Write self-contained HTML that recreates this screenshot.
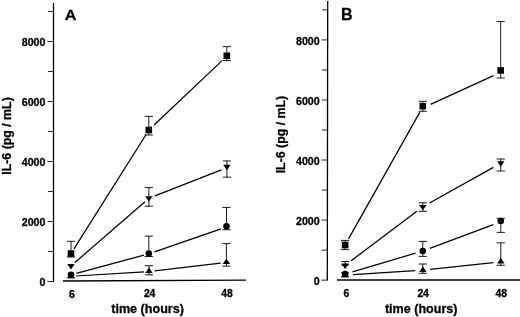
<!DOCTYPE html>
<html><head><meta charset="utf-8"><title>IL-6 time course</title>
<style>
html,body{margin:0;padding:0;background:#fff;}
svg{display:block;}
text{font-family:"Liberation Sans",Arial,sans-serif;font-weight:bold;fill:#000;stroke:#000;stroke-width:0.3px;stroke-linejoin:round;}
.tk{font-size:10.65px;}
.xk{font-size:10.4px;}
.ax{font-size:12.6px;}
.ay{font-size:12.35px;}
.pl{font-size:16px;}
</style></head><body>
<svg width="520" height="317" viewBox="0 0 520 317">
<rect width="520" height="317" fill="#fff"/>
<line x1="53.50" y1="3.00" x2="53.50" y2="281.95" stroke="#000" stroke-width="1.3"/>
<line x1="47.60" y1="281.50" x2="53.50" y2="281.50" stroke="#000" stroke-width="0.85"/>
<text x="45.40" y="286.20" text-anchor="end" class="tk">0</text>
<line x1="47.90" y1="251.50" x2="53.50" y2="251.50" stroke="#000" stroke-width="0.85"/>
<line x1="47.60" y1="221.50" x2="53.50" y2="221.50" stroke="#000" stroke-width="0.85"/>
<text x="45.40" y="226.20" text-anchor="end" class="tk">2000</text>
<line x1="47.90" y1="191.50" x2="53.50" y2="191.50" stroke="#000" stroke-width="0.85"/>
<line x1="47.60" y1="161.50" x2="53.50" y2="161.50" stroke="#000" stroke-width="0.85"/>
<text x="45.40" y="166.20" text-anchor="end" class="tk">4000</text>
<line x1="47.90" y1="131.50" x2="53.50" y2="131.50" stroke="#000" stroke-width="0.85"/>
<line x1="47.60" y1="101.50" x2="53.50" y2="101.50" stroke="#000" stroke-width="0.85"/>
<text x="45.40" y="106.20" text-anchor="end" class="tk">6000</text>
<line x1="47.90" y1="71.50" x2="53.50" y2="71.50" stroke="#000" stroke-width="0.85"/>
<line x1="47.60" y1="41.50" x2="53.50" y2="41.50" stroke="#000" stroke-width="0.85"/>
<text x="45.40" y="46.20" text-anchor="end" class="tk">8000</text>
<line x1="47.90" y1="11.50" x2="53.50" y2="11.50" stroke="#000" stroke-width="0.85"/>
<line x1="63.00" y1="281.00" x2="246.00" y2="280.10" stroke="#000" stroke-width="1.4"/>
<line x1="73.94" y1="248.85" x2="146.13" y2="134.53" stroke="#000" stroke-width="1.25"/>
<line x1="154.10" y1="124.98" x2="222.08" y2="60.67" stroke="#000" stroke-width="1.25"/>
<line x1="71.00" y1="241.30" x2="71.00" y2="257.00" stroke="#000" stroke-width="0.9"/>
<line x1="66.90" y1="241.30" x2="75.10" y2="241.30" stroke="#000" stroke-width="0.9"/>
<line x1="66.90" y1="257.00" x2="75.10" y2="257.00" stroke="#000" stroke-width="0.9"/>
<rect x="67.70" y="250.20" width="6.6" height="6.6" fill="#000"/>
<line x1="148.80" y1="116.40" x2="148.80" y2="135.00" stroke="#000" stroke-width="0.9"/>
<line x1="144.70" y1="116.40" x2="152.90" y2="116.40" stroke="#000" stroke-width="0.9"/>
<line x1="144.70" y1="135.00" x2="152.90" y2="135.00" stroke="#000" stroke-width="0.9"/>
<rect x="145.50" y="126.70" width="6.6" height="6.6" fill="#000"/>
<line x1="226.80" y1="46.60" x2="226.80" y2="60.50" stroke="#000" stroke-width="0.9"/>
<line x1="222.70" y1="46.60" x2="230.90" y2="46.60" stroke="#000" stroke-width="0.9"/>
<line x1="222.70" y1="60.50" x2="230.90" y2="60.50" stroke="#000" stroke-width="0.9"/>
<rect x="223.50" y="52.50" width="6.6" height="6.6" fill="#000"/>
<line x1="74.93" y1="262.49" x2="144.97" y2="201.71" stroke="#000" stroke-width="1.25"/>
<line x1="154.95" y1="195.92" x2="221.32" y2="169.80" stroke="#000" stroke-width="1.25"/>
<polygon points="67.30,264.07 74.70,264.07 71.00,269.57" fill="#000"/>
<line x1="148.90" y1="187.60" x2="148.90" y2="206.20" stroke="#000" stroke-width="0.9"/>
<line x1="144.80" y1="187.60" x2="153.00" y2="187.60" stroke="#000" stroke-width="0.9"/>
<line x1="144.80" y1="206.20" x2="153.00" y2="206.20" stroke="#000" stroke-width="0.9"/>
<polygon points="145.20,196.37 152.60,196.37 148.90,201.87" fill="#000"/>
<line x1="226.90" y1="160.90" x2="226.90" y2="177.20" stroke="#000" stroke-width="0.9"/>
<line x1="222.80" y1="160.90" x2="231.00" y2="160.90" stroke="#000" stroke-width="0.9"/>
<line x1="222.80" y1="177.20" x2="231.00" y2="177.20" stroke="#000" stroke-width="0.9"/>
<polygon points="223.20,164.87 230.60,164.87 226.90,170.37" fill="#000"/>
<line x1="76.41" y1="273.35" x2="143.97" y2="255.20" stroke="#000" stroke-width="1.25"/>
<line x1="154.47" y1="251.93" x2="221.02" y2="228.80" stroke="#000" stroke-width="1.25"/>
<circle cx="71.00" cy="274.70" r="3.3" fill="#000"/>
<line x1="148.80" y1="236.10" x2="148.80" y2="256.50" stroke="#000" stroke-width="0.9"/>
<line x1="144.70" y1="236.10" x2="152.90" y2="236.10" stroke="#000" stroke-width="0.9"/>
<line x1="144.70" y1="256.50" x2="152.90" y2="256.50" stroke="#000" stroke-width="0.9"/>
<circle cx="148.80" cy="253.50" r="3.3" fill="#000"/>
<line x1="226.50" y1="207.40" x2="226.50" y2="229.70" stroke="#000" stroke-width="0.9"/>
<line x1="222.40" y1="207.40" x2="230.60" y2="207.40" stroke="#000" stroke-width="0.9"/>
<line x1="222.40" y1="229.70" x2="230.60" y2="229.70" stroke="#000" stroke-width="0.9"/>
<circle cx="226.50" cy="226.20" r="3.3" fill="#000"/>
<line x1="75.99" y1="276.00" x2="144.01" y2="271.90" stroke="#000" stroke-width="1.25"/>
<line x1="154.56" y1="270.94" x2="220.64" y2="263.08" stroke="#000" stroke-width="1.25"/>
<line x1="71.00" y1="276.00" x2="71.00" y2="277.90" stroke="#000" stroke-width="0.9"/>
<line x1="66.90" y1="277.90" x2="75.10" y2="277.90" stroke="#000" stroke-width="0.9"/>
<polygon points="67.30,277.83 74.70,277.83 71.00,272.33" fill="#000"/>
<line x1="149.00" y1="265.70" x2="149.00" y2="274.90" stroke="#000" stroke-width="0.9"/>
<line x1="144.90" y1="265.70" x2="153.10" y2="265.70" stroke="#000" stroke-width="0.9"/>
<line x1="144.90" y1="274.90" x2="153.10" y2="274.90" stroke="#000" stroke-width="0.9"/>
<polygon points="145.30,273.03 152.70,273.03 149.00,267.53" fill="#000"/>
<line x1="226.40" y1="243.60" x2="226.40" y2="266.20" stroke="#000" stroke-width="0.9"/>
<line x1="222.30" y1="243.60" x2="230.50" y2="243.60" stroke="#000" stroke-width="0.9"/>
<line x1="222.30" y1="266.20" x2="230.50" y2="266.20" stroke="#000" stroke-width="0.9"/>
<polygon points="222.70,264.03 230.10,264.03 226.40,258.53" fill="#000"/>
<line x1="327.70" y1="1.00" x2="327.30" y2="280.60" stroke="#000" stroke-width="1.3"/>
<line x1="321.40" y1="280.15" x2="327.30" y2="280.15" stroke="#000" stroke-width="0.85"/>
<text x="319.70" y="285.15" text-anchor="end" class="tk">0</text>
<line x1="321.74" y1="250.12" x2="327.34" y2="250.12" stroke="#000" stroke-width="0.85"/>
<line x1="321.49" y1="220.09" x2="327.39" y2="220.09" stroke="#000" stroke-width="0.85"/>
<text x="319.70" y="225.09" text-anchor="end" class="tk">2000</text>
<line x1="321.83" y1="190.06" x2="327.43" y2="190.06" stroke="#000" stroke-width="0.85"/>
<line x1="321.57" y1="160.03" x2="327.47" y2="160.03" stroke="#000" stroke-width="0.85"/>
<text x="319.70" y="165.03" text-anchor="end" class="tk">4000</text>
<line x1="321.92" y1="130.00" x2="327.52" y2="130.00" stroke="#000" stroke-width="0.85"/>
<line x1="321.66" y1="99.97" x2="327.56" y2="99.97" stroke="#000" stroke-width="0.85"/>
<text x="319.70" y="104.97" text-anchor="end" class="tk">6000</text>
<line x1="322.00" y1="69.94" x2="327.60" y2="69.94" stroke="#000" stroke-width="0.85"/>
<line x1="321.74" y1="39.91" x2="327.64" y2="39.91" stroke="#000" stroke-width="0.85"/>
<text x="319.70" y="44.91" text-anchor="end" class="tk">8000</text>
<line x1="322.09" y1="9.88" x2="327.69" y2="9.88" stroke="#000" stroke-width="0.85"/>
<line x1="337.00" y1="280.00" x2="520.00" y2="280.00" stroke="#000" stroke-width="1.4"/>
<line x1="348.53" y1="238.90" x2="419.76" y2="112.40" stroke="#000" stroke-width="1.25"/>
<line x1="430.53" y1="104.37" x2="493.42" y2="75.63" stroke="#000" stroke-width="1.25"/>
<line x1="345.10" y1="240.40" x2="345.10" y2="249.60" stroke="#000" stroke-width="0.9"/>
<line x1="341.00" y1="240.40" x2="349.20" y2="240.40" stroke="#000" stroke-width="0.9"/>
<line x1="341.00" y1="249.60" x2="349.20" y2="249.60" stroke="#000" stroke-width="0.9"/>
<rect x="341.80" y="241.70" width="6.6" height="6.6" fill="#000"/>
<line x1="422.80" y1="101.30" x2="422.80" y2="111.30" stroke="#000" stroke-width="0.9"/>
<line x1="418.70" y1="101.30" x2="426.90" y2="101.30" stroke="#000" stroke-width="0.9"/>
<line x1="418.70" y1="111.30" x2="426.90" y2="111.30" stroke="#000" stroke-width="0.9"/>
<rect x="419.50" y="102.90" width="6.6" height="6.6" fill="#000"/>
<line x1="500.70" y1="21.50" x2="500.70" y2="78.00" stroke="#000" stroke-width="0.9"/>
<line x1="496.60" y1="21.50" x2="504.80" y2="21.50" stroke="#000" stroke-width="0.9"/>
<line x1="496.60" y1="78.00" x2="504.80" y2="78.00" stroke="#000" stroke-width="0.9"/>
<rect x="497.40" y="67.10" width="6.6" height="6.6" fill="#000"/>
<line x1="351.09" y1="260.79" x2="416.89" y2="211.25" stroke="#000" stroke-width="1.25"/>
<line x1="429.52" y1="203.04" x2="493.38" y2="167.35" stroke="#000" stroke-width="1.25"/>
<line x1="345.10" y1="261.50" x2="345.10" y2="265.00" stroke="#000" stroke-width="0.9"/>
<line x1="341.00" y1="261.50" x2="349.20" y2="261.50" stroke="#000" stroke-width="0.9"/>
<line x1="341.00" y1="265.00" x2="349.20" y2="265.00" stroke="#000" stroke-width="0.9"/>
<polygon points="341.40,263.47 348.80,263.47 345.10,268.97" fill="#000"/>
<line x1="422.80" y1="202.80" x2="422.80" y2="211.30" stroke="#000" stroke-width="0.9"/>
<line x1="418.70" y1="202.80" x2="426.90" y2="202.80" stroke="#000" stroke-width="0.9"/>
<line x1="418.70" y1="211.30" x2="426.90" y2="211.30" stroke="#000" stroke-width="0.9"/>
<polygon points="419.10,204.97 426.50,204.97 422.80,210.47" fill="#000"/>
<line x1="500.80" y1="159.00" x2="500.80" y2="171.00" stroke="#000" stroke-width="0.9"/>
<line x1="496.70" y1="159.00" x2="504.90" y2="159.00" stroke="#000" stroke-width="0.9"/>
<line x1="496.70" y1="171.00" x2="504.90" y2="171.00" stroke="#000" stroke-width="0.9"/>
<polygon points="497.10,161.37 504.50,161.37 500.80,166.87" fill="#000"/>
<line x1="352.48" y1="271.81" x2="415.51" y2="253.16" stroke="#000" stroke-width="1.25"/>
<line x1="429.82" y1="248.37" x2="493.31" y2="224.60" stroke="#000" stroke-width="1.25"/>
<line x1="345.10" y1="272.80" x2="345.10" y2="277.00" stroke="#000" stroke-width="0.9"/>
<line x1="341.00" y1="272.80" x2="349.20" y2="272.80" stroke="#000" stroke-width="0.9"/>
<line x1="341.00" y1="277.00" x2="349.20" y2="277.00" stroke="#000" stroke-width="0.9"/>
<circle cx="345.10" cy="274.00" r="3.3" fill="#000"/>
<line x1="422.80" y1="241.40" x2="422.80" y2="256.40" stroke="#000" stroke-width="0.9"/>
<line x1="418.70" y1="241.40" x2="426.90" y2="241.40" stroke="#000" stroke-width="0.9"/>
<line x1="418.70" y1="256.40" x2="426.90" y2="256.40" stroke="#000" stroke-width="0.9"/>
<circle cx="422.80" cy="251.00" r="3.3" fill="#000"/>
<line x1="500.80" y1="218.30" x2="500.80" y2="232.40" stroke="#000" stroke-width="0.9"/>
<line x1="496.70" y1="218.30" x2="504.90" y2="218.30" stroke="#000" stroke-width="0.9"/>
<line x1="496.70" y1="232.40" x2="504.90" y2="232.40" stroke="#000" stroke-width="0.9"/>
<circle cx="500.80" cy="221.00" r="3.3" fill="#000"/>
<line x1="352.98" y1="274.69" x2="415.32" y2="270.68" stroke="#000" stroke-width="1.25"/>
<line x1="430.06" y1="269.41" x2="493.24" y2="262.52" stroke="#000" stroke-width="1.25"/>
<polygon points="341.40,277.03 348.80,277.03 345.10,271.53" fill="#000"/>
<line x1="422.80" y1="264.00" x2="422.80" y2="273.30" stroke="#000" stroke-width="0.9"/>
<line x1="418.70" y1="264.00" x2="426.90" y2="264.00" stroke="#000" stroke-width="0.9"/>
<line x1="418.70" y1="273.30" x2="426.90" y2="273.30" stroke="#000" stroke-width="0.9"/>
<polygon points="419.10,272.03 426.50,272.03 422.80,266.53" fill="#000"/>
<line x1="500.80" y1="242.80" x2="500.80" y2="265.30" stroke="#000" stroke-width="0.9"/>
<line x1="496.70" y1="242.80" x2="504.90" y2="242.80" stroke="#000" stroke-width="0.9"/>
<line x1="496.70" y1="265.30" x2="504.90" y2="265.30" stroke="#000" stroke-width="0.9"/>
<polygon points="497.10,263.53 504.50,263.53 500.80,258.03" fill="#000"/>
<text x="72.0" y="297.7" text-anchor="middle" class="xk">6</text>
<text x="149.5" y="297.3" text-anchor="middle" class="xk" letter-spacing="-0.35">24</text>
<text x="227" y="297.2" text-anchor="middle" class="xk">48</text>
<text x="346.3" y="296.8" text-anchor="middle" class="xk">6</text>
<text x="423.0" y="296.8" text-anchor="middle" class="xk" letter-spacing="-0.35">24</text>
<text x="501.2" y="296.8" text-anchor="middle" class="xk">48</text>
<text x="147.6" y="313.4" text-anchor="middle" class="ax">time (hours)</text>
<text x="421.2" y="313.0" text-anchor="middle" class="ax" style="font-size:12.55px">time (hours)</text>
<text transform="translate(11.0,136.0) rotate(-90)" text-anchor="middle" class="ay">IL-6 (pg / mL)</text>
<text transform="translate(284.9,134.6) rotate(-90)" text-anchor="middle" class="ay">IL-6 (pg / mL)</text>
<text transform="translate(64.7,20.2) scale(1.06,1)" class="pl" style="font-size:15.3px">A</text>
<text x="341.0" y="19.6" class="pl">B</text>
</svg>
</body></html>
